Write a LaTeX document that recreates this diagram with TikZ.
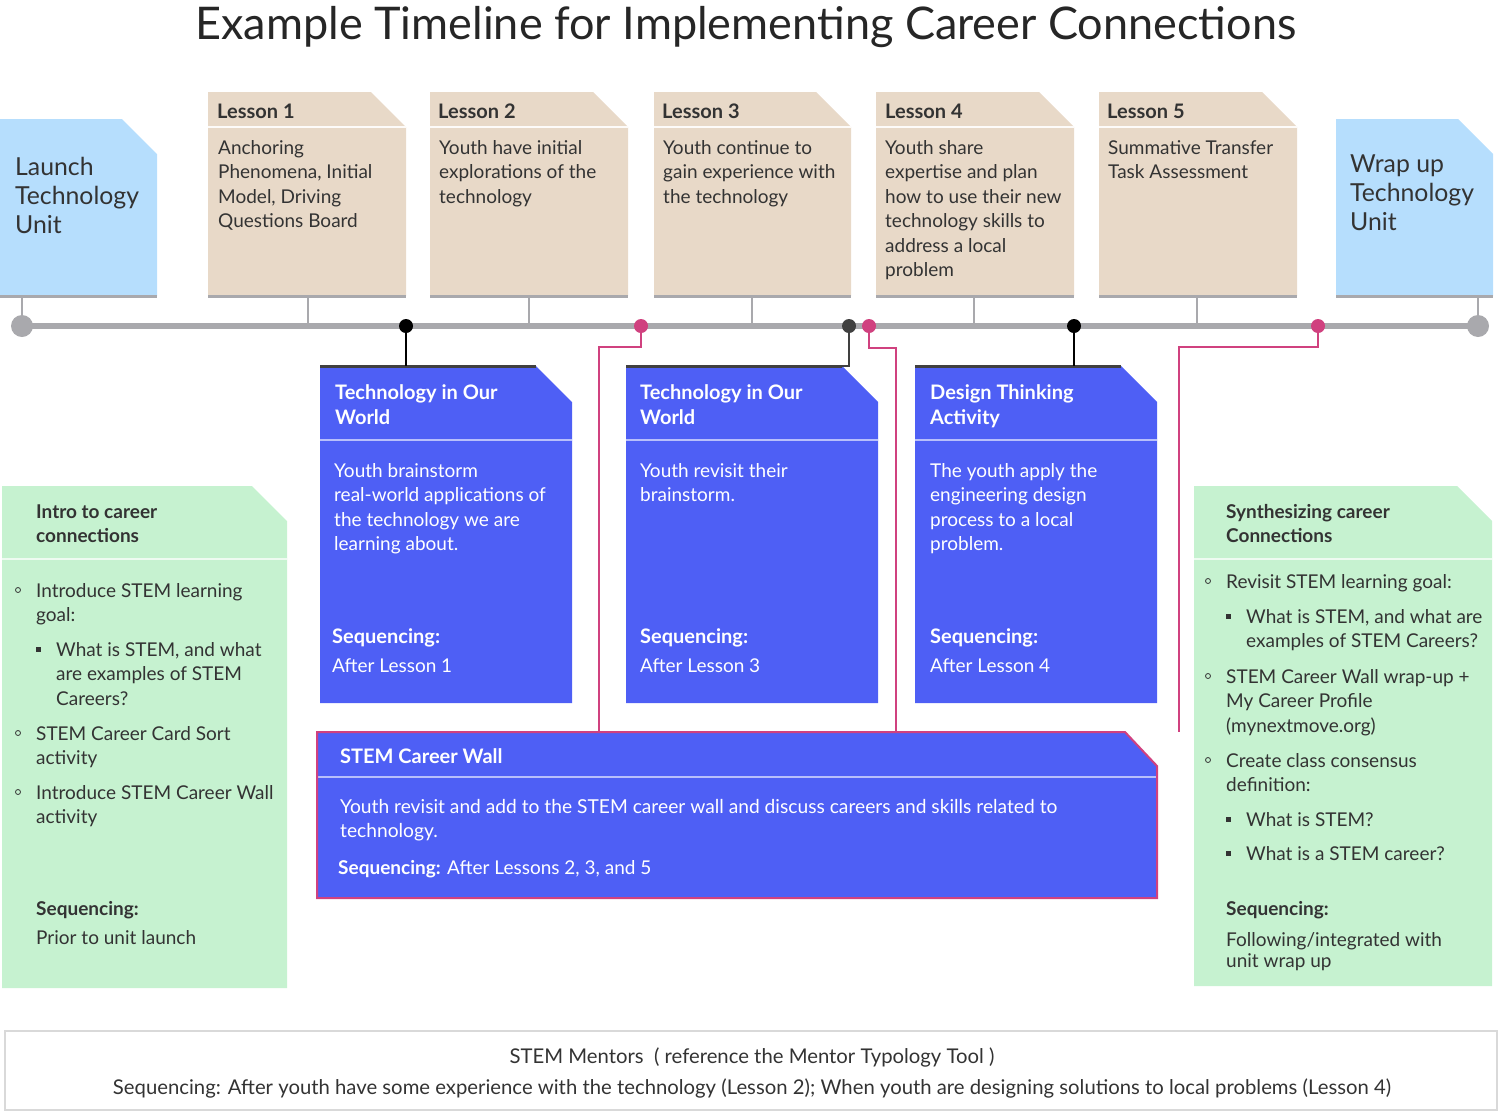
\documentclass[tikz,border=0pt]{standalone}
\usepackage{fontspec}
\setmainfont{Lato}
\definecolor{lblue}{HTML}{B6DEFD}
\definecolor{tan}{HTML}{E8D9C8}
\definecolor{bblue}{HTML}{4E5FF5}
\definecolor{grn}{HTML}{C6F2D0}
\definecolor{mag}{HTML}{D0417F}
\definecolor{tgray}{HTML}{A9A9AD}
\definecolor{txt}{HTML}{333333}
\newcommand{\foldbox}[6]{\fill[#6] (#1,#2) -- (#3-#5,#2) -- (#3,#2+#5) -- (#3,#4) -- (#1,#4) -- cycle;}
\newcommand{\ml}[1]{\begin{tabular}[t]{@{}l@{}}#1\end{tabular}}
\newcommand{\mc}[1]{\begin{tabular}[t]{@{}c@{}}#1\end{tabular}}
\tikzset{
 tb/.style={anchor=base west,inner sep=0pt,text=txt,font=\fontsize{19}{24.5}\selectfont},
 hd/.style={anchor=base west,inner sep=0pt,text=txt,font=\fontsize{20}{25}\selectfont\bfseries},
 wt/.style={anchor=base west,inner sep=0pt,text=white,font=\fontsize{19}{24.5}\selectfont},
 wh/.style={anchor=base west,inner sep=0pt,text=white,font=\fontsize{20}{25}\selectfont\bfseries},
 big/.style={anchor=base west,inner sep=0pt,text=txt,font=\fontsize{24.8}{29}\selectfont},
 tick/.style={tgray,line width=2pt},
 dot/.style={circle,inner sep=0pt,minimum size=14pt},
 cb/.style={circle,draw=txt,line width=0.8pt,inner sep=0pt,minimum size=5pt},
 sb/.style={fill=txt,inner sep=0pt,minimum size=5pt},
 mline/.style={mag,line width=2pt},
}
\begin{document}
\begin{tikzpicture}[x=1pt,y=-1pt]
\useasboundingbox (0,0) rectangle (1500,1112);
\node[anchor=base,inner sep=0pt,text=black!85,font=\fontsize{45}{50}\selectfont] (title) at (746,39) {Example Timeline for Implementing Career Connections};

% timeline
\draw[tgray,line width=6pt] (22,326) -- (1478,326);
\foreach \x/\y in {22/296,308/296,529/296,752/296,974/296,1197/296,1478/296}{\draw[tick] (\x,\y) -- (\x,326);}
\node[dot,fill=tgray,minimum size=22pt] (e1) at (22,326) {};
\node[dot,fill=tgray,minimum size=22pt] (e2) at (1478,326) {};

% top boxes
\foldbox{0}{119}{157}{296}{35}{lblue}
\foldbox{1336}{119}{1493}{296}{35}{lblue}
\draw[tgray,line width=3pt] (0,296) -- (157,296) (1336,296) -- (1493,296);
\foreach \a/\b in {208/406,430/628,654/851,876/1074,1099/1297}{
 \foldbox{\a}{92}{\b}{296}{35}{tan}
 \draw[white!90!tan,line width=1.5pt] (\a,127) -- (\b,127);
 \draw[tgray,line width=3pt] (\a,296) -- (\b,296);
}
\node[big] (launch) at (15,175) {\ml{Launch\\Technology\\Unit}};
\node[big] (wrap) at (1350,172) {\ml{Wrap up\\Technology\\Unit}};
\node[hd] (l1h) at (217,118) {Lesson 1};
\node[hd] (l2h) at (438,118) {Lesson 2};
\node[hd] (l3h) at (662,118) {Lesson 3};
\node[hd] (l4h) at (885,118) {Lesson 4};
\node[hd] (l5h) at (1107,118) {Lesson 5};
\node[tb] (l1) at (218,154) {\ml{Anchoring\\Phenomena, Initial\\Model, Driving\\Questions Board}};
\node[tb] (l2) at (439,154) {\ml{Youth have initial\\explorations of the\\technology}};
\node[tb] (l3) at (663,154) {\ml{Youth continue to\\gain experience with\\the technology}};
\node[tb] (l4) at (885,154) {\ml{Youth share\\expertise and plan\\how to use their new\\technology skills to\\address a local\\problem}};
\node[tb] (l5) at (1108,154) {\ml{Summative Transfer\\Task Assessment}};

% blue boxes
\foreach \a/\b in {320/572,626/878,915/1157}{
 \foldbox{\a}{366}{\b}{703}{36}{bblue}
 \draw[black!75,line width=3pt] (\a,366) -- (\b-36,366);
 \draw[white!60!bblue,line width=1.5pt] (\a,440) -- (\b,440);
}
\node[wh] (b1h) at (335,399) {\ml{Technology in Our\\World}};
\node[wh] (b2h) at (640,399) {\ml{Technology in Our\\World}};
\node[wh] (b3h) at (930,399) {\ml{Design Thinking\\Activity}};
\node[wt] (b1) at (334,477) {\ml{Youth brainstorm\\real-world applications of\\the technology we are\\learning about.}};
\node[wt] (b2) at (640,477) {\ml{Youth revisit their\\brainstorm.}};
\node[wt] (b3) at (930,477) {\ml{The youth apply the\\engineering design\\process to a local\\problem.}};
\node[wh] (b1s) at (332,643) {Sequencing:};
\node[wh] (b2s) at (640,643) {Sequencing:};
\node[wh] (b3s) at (930,643) {Sequencing:};
\node[wt] (b1a) at (332,672) {After Lesson 1};
\node[wt] (b2a) at (640,672) {After Lesson 3};
\node[wt] (b3a) at (930,672) {After Lesson 4};

% STEM wall
\fill[bblue] (317,732) -- (1125,732) -- (1157,766) -- (1157,898) -- (317,898) -- cycle;
\draw[white!60!bblue,line width=1.5pt] (317,777) -- (1157,777);
\draw[mag,line width=2pt] (317,732) -- (1125,732) -- (1157,766) -- (1157,898) -- (317,898) -- cycle;
\node[wh] (wallh) at (340,763) {STEM Career Wall};
\node[wt,font=\fontsize{19.2}{24.5}\selectfont] (wall) at (340,813) {\ml{Youth revisit and add to the STEM career wall and discuss careers and skills related to\\technology.}};
\node[wt] (walls) at (338,874) {\textbf{Sequencing:} After Lessons 2, 3, and 5};
\coordinate (w1) at (599,732);
\coordinate (w2) at (896,732);
\coordinate (w3) at (1179,732);

% connectors
\node[dot,fill=black] (d1) at (406,326) {};
\node[dot,fill=black!75] (d2) at (849,326) {};
\node[dot,fill=black] (d3) at (1074,326) {};
\node[dot,fill=mag] (m1) at (641,326) {};
\node[dot,fill=mag] (m2) at (869,326) {};
\node[dot,fill=mag] (m3) at (1318,326) {};
\coordinate (c1) at (406,366);
\coordinate (c2) at (838,366);
\coordinate (c3) at (1074,366);
\draw[black,line width=2pt] (d1) -- (c1);
\draw[black!75,line width=2pt] (d2) |- (c2);
\draw[black,line width=2pt] (d3) -- (c3);
\draw[mline] (m1) -- (641,347) -| (w1);
\draw[mline] (m2) -- (869,348) -| (w2);
\draw[mline] (m3) -- (1318,347) -| (w3);

% green boxes
\foldbox{2}{486}{287}{988}{35}{grn}
\foldbox{1194}{486}{1492}{986}{35}{grn}
\draw[white!70!grn,line width=1.5pt] (2,559) -- (287,559) (1194,559) -- (1492,559);
\node[hd,font=\fontsize{19}{24.5}\selectfont\bfseries] (g1h) at (36,518) {\ml{Intro to career\\connections}};
\node[cb] (g1b1) at (18,590) {};
\node[tb] (g1t1) at (36,597) {\ml{Introduce STEM learning\\goal:}};
\node[sb] (g1b2) at (38,649) {};
\node[tb] (g1t2) at (56,656) {\ml{What is STEM, and what\\are examples of STEM\\Careers?}};
\node[cb] (g1b3) at (18,733) {};
\node[tb] (g1t3) at (36,740) {\ml{STEM Career Card Sort\\activity}};
\node[cb] (g1b4) at (18,792) {};
\node[tb] (g1t4) at (36,799) {\ml{Introduce STEM Career Wall\\activity}};
\node[hd,font=\fontsize{19}{24.5}\selectfont\bfseries] (g1s) at (36,915) {Sequencing:};
\node[tb] (g1p) at (36,944) {Prior to unit launch};

\node[hd,font=\fontsize{19}{24.5}\selectfont\bfseries] (g2h) at (1226,518) {\ml{Synthesizing career\\Connections}};
\node[cb] (g2b1) at (1208,581) {};
\node[tb] (g2t1) at (1226,588) {Revisit STEM learning goal:};
\node[sb] (g2b2) at (1228,616) {};
\node[tb] (g2t2) at (1246,623) {\ml{What is STEM, and what are\\examples of STEM Careers?}};
\node[cb] (g2b3) at (1208,676) {};
\node[tb] (g2t3) at (1226,683) {\ml{STEM Career Wall wrap-up +\\My Career Profile\\(mynextmove.org)}};
\node[cb] (g2b4) at (1208,760) {};
\node[tb] (g2t4) at (1226,767) {\ml{Create class consensus\\definition:}};
\node[sb] (g2b5) at (1228,819) {};
\node[tb] (g2t5) at (1246,826) {What is STEM?};
\node[sb] (g2b6) at (1228,853) {};
\node[tb] (g2t6) at (1246,860) {What is a STEM career?};
\node[hd,font=\fontsize{19}{24.5}\selectfont\bfseries] (g2s) at (1226,915) {Sequencing:};
\node[tb,font=\fontsize{19}{21}\selectfont] (g2p) at (1226,946) {\ml{Following/integrated with\\unit wrap up}};

% bottom
\node[draw=black!15,line width=1.5pt,minimum width=1492pt,minimum height=79pt,inner sep=0pt] (mentor) at (751,1070.5) {};
\node[anchor=base,inner sep=0pt,text=txt,font=\fontsize{20.3}{31}\selectfont] (mt) at (752,1063) {\mc{STEM Mentors \ ( reference the Mentor Typology Tool )\\Sequencing: After youth have some experience with the technology (Lesson 2); When youth are designing solutions to local problems (Lesson 4)}};
\end{tikzpicture}
\end{document}
